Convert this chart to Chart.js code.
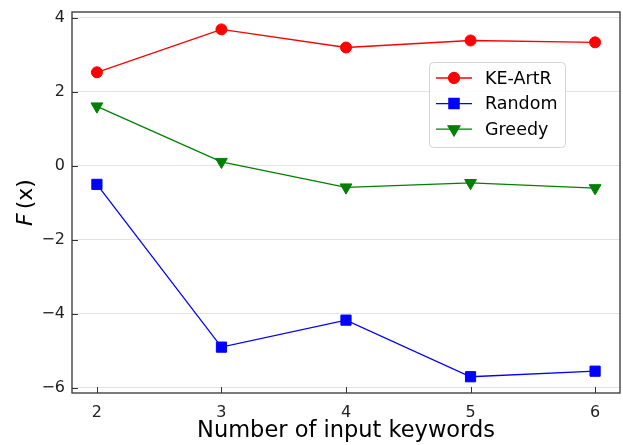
<!DOCTYPE html>
<html>
<head>
<meta charset="utf-8">
<script src="https://cdn.jsdelivr.net/npm/chart.js@4/dist/chart.umd.min.js"></script>
<style>
  html, body { margin: 0; padding: 0; background: #fff; }
  #wrap { width: 623px; height: 445px; }
</style>
</head>
<body>
<div id="wrap"><canvas id="chart" width="623" height="445"></canvas></div>
<script>
// values
const keywordCounts = [2, 3, 4, 5, 6];
const keArtR = [2.53, 3.69, 3.2, 3.39, 3.34];
const randomPick = [-0.5, -4.9, -4.17, -5.7, -5.55];
const greedy = [1.61, 0.11, -0.58, -0.46, -0.6];
const yTicks = [-6, -4, -2, 0, 2, 4];
const seriesNames = ['KE-ArtR', 'Random', 'Greedy'];

const FONT = "'DejaVu Sans', 'Liberation Sans', sans-serif";

const series = [
  { label: seriesNames[0], values: keArtR, color: '#ff0000', style: 'circle', radius: 5.5, rotation: 0 },
  { label: seriesNames[1], values: randomPick, color: '#0000ff', style: 'rect', radius: 7.2, rotation: 0 },
  { label: seriesNames[2], values: greedy, color: '#008000', style: 'triangle', radius: 6.8, rotation: 180 },
];

function toPoints(values) {
  return keywordCounts.map((x, i) => ({ x, y: values[i] }));
}

// inward ticks, frame, legend and axis titles
const decor = {
  id: 'decor',
  afterDraw(chart) {
    const { ctx, chartArea: a, scales } = chart;
    ctx.save();

    ctx.strokeStyle = '#333';
    ctx.lineWidth = 1;
    keywordCounts.forEach((v) => {
      const px = Math.round(scales.x.getPixelForValue(v)) + 0.5;
      ctx.beginPath();
      ctx.moveTo(px, a.bottom);
      ctx.lineTo(px, a.bottom - 6);
      ctx.stroke();
    });
    yTicks.forEach((v) => {
      const py = Math.round(scales.y.getPixelForValue(v)) + 0.5;
      ctx.beginPath();
      ctx.moveTo(a.left, py);
      ctx.lineTo(a.left + 6, py);
      ctx.stroke();
    });

    ctx.lineWidth = 1.3;
    ctx.strokeRect(a.left, a.top, a.right - a.left, a.bottom - a.top);

    // legend
    const lx = 429, ly = 62, lw = 136, lh = 85;
    ctx.beginPath();
    ctx.roundRect(lx + 0.5, ly + 0.5, lw, lh, 4);
    ctx.fillStyle = 'rgba(255,255,255,0.85)';
    ctx.fill();
    ctx.strokeStyle = '#d4d4d4';
    ctx.lineWidth = 1;
    ctx.stroke();

    ctx.font = `17.5px ${FONT}`;
    ctx.textBaseline = 'middle';
    ctx.textAlign = 'left';
    series.forEach((s, i) => {
      const y = 78 + i * 25.6;
      ctx.strokeStyle = s.color;
      ctx.lineWidth = 1.3;
      ctx.beginPath();
      ctx.moveTo(436, y);
      ctx.lineTo(472, y);
      ctx.stroke();
      ctx.fillStyle = s.color;
      Chart.helpers.drawPoint(ctx, { pointStyle: s.style, radius: s.radius, rotation: s.rotation, borderWidth: 1 }, 454, y);
      ctx.fillStyle = '#000';
      ctx.fillText(s.label, 485, y + 1);
    });

    // axis titles
    ctx.fillStyle = '#000';
    ctx.font = `22.5px ${FONT}`;
    ctx.textAlign = 'center';
    ctx.textBaseline = 'alphabetic';
    ctx.fillText('Number of input keywords', (a.left + a.right) / 2, 437);

    ctx.translate(32, (a.top + a.bottom) / 2);
    ctx.rotate(-Math.PI / 2);
    ctx.textAlign = 'left';
    const fPart = 'F';
    const rest = '(x)';
    const gap = 4;
    ctx.font = `italic 22px ${FONT}`;
    const w1 = ctx.measureText(fPart).width;
    ctx.font = `22px ${FONT}`;
    const w2 = ctx.measureText(rest).width;
    const start = -(w1 + gap + w2) / 2;
    ctx.font = `italic 22px ${FONT}`;
    ctx.fillText(fPart, start, 0);
    ctx.font = `22px ${FONT}`;
    ctx.fillText(rest, start + w1 + gap, 0);

    ctx.restore();
  },
};

new Chart(document.getElementById('chart'), {
  type: 'line',
  data: {
    datasets: series.map((s) => ({
      label: s.label,
      data: toPoints(s.values),
      borderColor: s.color,
      backgroundColor: s.color,
      borderWidth: 1.3,
      pointStyle: s.style,
      pointRadius: s.radius,
      pointRotation: s.rotation,
      pointBorderWidth: 1,
      pointHoverRadius: s.radius,
      tension: 0,
    })),
  },
  options: {
    responsive: false,
    animation: false,
    devicePixelRatio: 1,
    layout: { autoPadding: false, padding: { top: 12, right: 3, left: 0, bottom: 0 } },
    plugins: { legend: { display: false }, tooltip: { enabled: false } },
    scales: {
      x: {
        type: 'linear',
        min: 1.8,
        max: 6.2,
        afterBuildTicks: (scale) => { scale.ticks = keywordCounts.map((v) => ({ value: v })); },
        afterFit: (scale) => {
          scale.height = 52;
          scale.paddingLeft = 0;
          scale.paddingRight = 0;
        },
        grid: { display: false },
        border: { display: false },
        ticks: { color: '#222', font: { family: FONT, size: 16 }, padding: 2, maxRotation: 0 },
      },
      y: {
        min: -6.14,
        max: 4.16,
        afterBuildTicks: (scale) => { scale.ticks = yTicks.map((v) => ({ value: v })); },
        afterFit: (scale) => {
          scale.width = 72;
          scale.paddingTop = 0;
          scale.paddingBottom = 0;
        },
        grid: { color: '#e3e3e3', lineWidth: 1, drawTicks: false },
        border: { display: false },
        ticks: {
          color: '#222',
          font: { family: FONT, size: 16 },
          padding: 7,
          callback: (v) => String(v).replace('-', '\u2212'),
        },
      },
    },
  },
  plugins: [decor],
});
</script>
</body>
</html>
